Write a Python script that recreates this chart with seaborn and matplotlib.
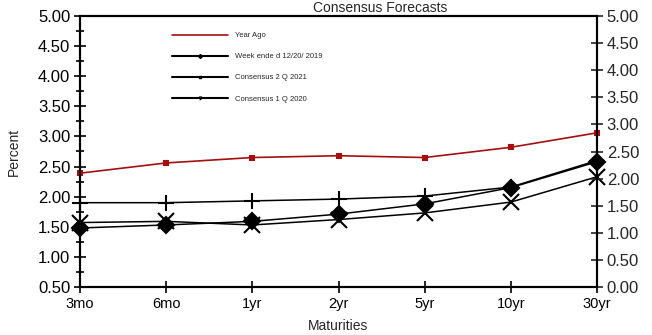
"""
Consensus forecasts yield curve chart
"""
import matplotlib
matplotlib.use("Agg")
import matplotlib.pyplot as plt
from matplotlib.lines import Line2D
from matplotlib.ticker import MultipleLocator, FormatStrFormatter
import seaborn as sns

maturities = ["3mo", "6mo", "1yr", "2yr", "5yr", "10yr", "30yr"]
year_ago = [2.39, 2.56, 2.65, 2.68, 2.65, 2.82, 3.06]
week_ended = [1.57, 1.59, 1.53, 1.62, 1.73, 1.91, 2.33]
consensus_2q21 = [1.90, 1.90, 1.93, 1.96, 2.01, 2.16, 2.60]
consensus_1q20 = [1.48, 1.53, 1.59, 1.71, 1.88, 2.15, 2.58]

labels = [
    "Year Ago",
    "Week ende d 12/20/ 2019",
    "Consensus 2 Q 2021",
    "Consensus 1 Q 2020",
]

sns.set_style("ticks")
plt.rcParams["font.family"] = ["Liberation Sans", "DejaVu Sans"]

fig = plt.figure(figsize=(6.52, 3.35), dpi=100)
ax = fig.add_axes([80 / 652, 1 - 287 / 335, (597 - 80) / 652, (287 - 16) / 335])

series = [
    (year_ago, "#a50f0f", "s", 3.5, 1.2),
    (week_ended, "black", "x", 11, 1.1),
    (consensus_2q21, "black", "+", 12, 1.1),
    (consensus_1q20, "black", "D", 8, 1.1),
]
for vals, col, mk, ms, lw in series:
    sns.lineplot(
        x=maturities, y=vals, ax=ax, color=col, marker=mk, markersize=ms,
        linewidth=lw, markeredgewidth=1.5, markeredgecolor=col, sort=False,
        clip_on=False, zorder=3,
    )

ax.set_xlim(0, 6)
ax.set_ylim(0.5, 5.0)
ax.yaxis.set_major_locator(MultipleLocator(0.5))
ax.yaxis.set_minor_locator(MultipleLocator(0.25))
ax.yaxis.set_major_formatter(FormatStrFormatter("%.2f"))
ax.tick_params(axis="both", which="both", direction="inout", width=1.2,
               colors="black")
ax.tick_params(axis="y", which="major", length=8, labelsize=12, pad=3)
ax.tick_params(axis="y", which="minor", length=6)
ax.tick_params(axis="x", length=8, pad=3, labelsize=10.5)
ax.set_ylabel("Percent", fontsize=10, labelpad=12)
ax.set_xlabel("Maturities", fontsize=10, labelpad=6)
for s in ax.spines.values():
    s.set_linewidth(1.5)
    s.set_color("black")

ax2 = ax.twinx()
ax2.set_ylim(0.0, 5.0)
ax2.yaxis.set_major_locator(MultipleLocator(0.5))
ax2.yaxis.set_major_formatter(FormatStrFormatter("%.2f"))
ax2.tick_params(axis="y", direction="inout", length=8, width=1.2,
                labelsize=12, pad=3)
for s in ax2.spines.values():
    s.set_linewidth(1.5)
    s.set_color("black")

fig.text(380 / 652, 0.997, "Consensus Forecasts", ha="center", va="top",
         fontsize=10)

handles = [
    Line2D([], [], color="#a50f0f", lw=1.2),
    Line2D([], [], color="black", lw=1.5, marker="D", markersize=2),
    Line2D([], [], color="black", lw=1.5, marker="s", markersize=2),
    Line2D([], [], color="black", lw=1.5, marker="v", markersize=2),
]
leg = ax.legend(
    handles, labels, loc="upper left", bbox_to_anchor=(165 / 652, 1 - 25 / 335),
    bbox_transform=fig.transFigure, frameon=False, fontsize=5.5,
    handlelength=7.3, handletextpad=0.9, labelspacing=1.8,
)

fig.savefig("out.png", dpi=100)
